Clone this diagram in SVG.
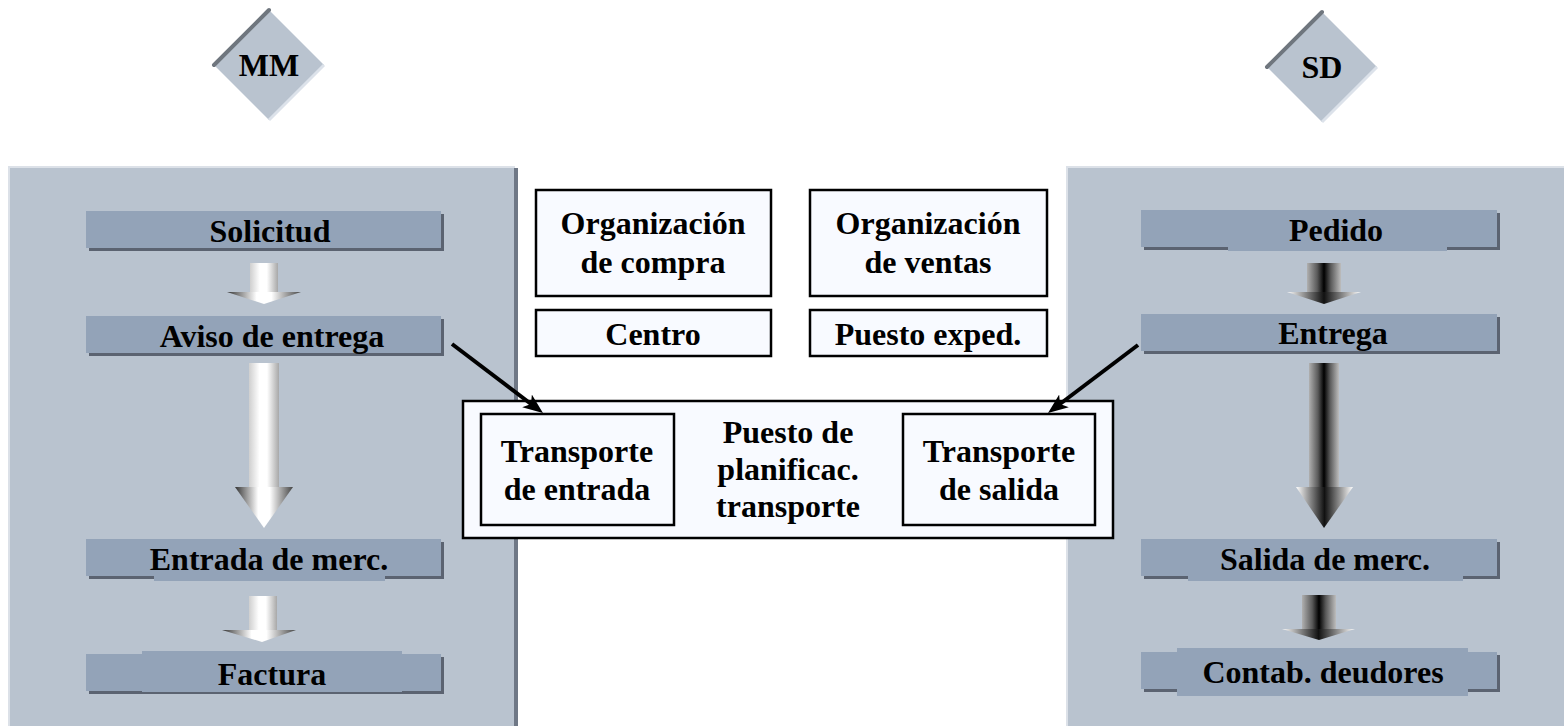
<svg xmlns="http://www.w3.org/2000/svg" width="1564" height="726" viewBox="0 0 1564 726">
<style>
text{font-family:"Liberation Serif","Times New Roman",serif;font-weight:bold;font-size:32px;fill:#000;text-anchor:middle}
.panel{fill:#b9c3cf}
.pdark{fill:#6f7886}
.plight{fill:#dce1e8}
.bar{fill:#93a3b8}
.lbg{fill:#93a3b8}
.shadow{fill:#5b6371}
.box{fill:#f8faff;stroke:#000;stroke-width:2.5}
.dia{fill:#b9c3cf}
.dedge{stroke:#6f767e;stroke-width:4;stroke-linecap:round}
.dlight{stroke:#dce2ea;stroke-width:3}
.conn{stroke:#000;stroke-width:4;fill:none}
</style>
<defs>
<linearGradient id="wShaft" x1="0" y1="0" x2="1" y2="0">
<stop offset="0" stop-color="#cfcfcf"/>
<stop offset="0.35" stop-color="#ffffff"/>
<stop offset="0.6" stop-color="#ffffff"/>
<stop offset="1" stop-color="#a8a8a8"/>
</linearGradient>
<linearGradient id="wHead" x1="0" y1="0" x2="1" y2="0">
<stop offset="0" stop-color="#333333"/>
<stop offset="0.4" stop-color="#ffffff"/>
<stop offset="0.6" stop-color="#ffffff"/>
<stop offset="1" stop-color="#444444"/>
</linearGradient>
<linearGradient id="bShaft" x1="0" y1="0" x2="1" y2="0">
<stop offset="0" stop-color="#b0b0b0"/>
<stop offset="0.3" stop-color="#5a5a5a"/>
<stop offset="0.5" stop-color="#000000"/>
<stop offset="0.7" stop-color="#5a5a5a"/>
<stop offset="1" stop-color="#bdbdbd"/>
</linearGradient>
<linearGradient id="bHead" x1="0" y1="0" x2="1" y2="0">
<stop offset="0" stop-color="#ffffff"/>
<stop offset="0.5" stop-color="#111111"/>
<stop offset="1" stop-color="#ffffff"/>
</linearGradient>
<marker id="ah" markerUnits="userSpaceOnUse" markerWidth="20" markerHeight="16" refX="10" refY="8" orient="auto" viewBox="0 0 20 16">
<path d="M0,0 L20,8 L0,16 L5,8 z" fill="#000"/>
</marker>
</defs>

<!-- module diamonds -->
<g id="mm">
<polygon class="dia" points="269,10 324,65 269,120 214,65"/>
<line class="dlight" x1="324" y1="65" x2="269" y2="120"/>
<line class="dedge" x1="214" y1="65" x2="269" y2="10"/>
<text x="269" y="76">MM</text>
</g>
<g id="sd">
<polygon class="dia" points="1322,12 1377,67 1322,122 1267,67"/>
<line class="dlight" x1="1377" y1="67" x2="1322" y2="122"/>
<line class="dedge" x1="1267" y1="67" x2="1322" y2="12"/>
<text x="1322" y="78">SD</text>
</g>

<!-- panels -->
<g id="panel-mm">
<rect class="plight" x="8" y="166" width="507" height="560"/>
<rect class="panel" x="10" y="168" width="505" height="558"/>
<rect class="pdark" x="514" y="168" width="4" height="558"/>
</g>
<g id="panel-sd">
<rect class="plight" x="1066" y="166" width="498" height="560"/>
<rect class="panel" x="1068" y="168" width="496" height="558"/>
</g>

<!-- MM flow -->
<g id="solicitud">
<rect class="shadow" x="89" y="214" width="355" height="37"/>
<rect class="bar" x="86" y="211" width="355" height="37"/>
<text x="270" y="242">Solicitud</text>
</g>
<g id="aviso">
<rect class="shadow" x="89" y="319" width="355" height="37"/>
<rect class="bar" x="86" y="316" width="355" height="37"/>
<text x="272" y="347">Aviso de entrega</text>
</g>
<g id="entrada-merc">
<rect class="shadow" x="89" y="542" width="355" height="37"/>
<rect class="bar" x="86" y="539" width="355" height="37"/>
<rect class="lbg" x="154" y="540" width="231" height="41"/>
<text x="269" y="570">Entrada de merc.</text>
</g>
<g id="factura">
<rect class="shadow" x="89" y="657" width="355" height="37"/>
<rect class="bar" x="86" y="654" width="355" height="37"/>
<rect class="lbg" x="142" y="651" width="260" height="41"/>
<text x="272" y="685">Factura</text>
</g>

<!-- SD flow -->
<g id="pedido">
<rect class="shadow" x="1144" y="213" width="356" height="37"/>
<rect class="bar" x="1141" y="210" width="356" height="37"/>
<rect class="lbg" x="1228" y="211" width="219" height="40"/>
<text x="1336" y="241">Pedido</text>
</g>
<g id="entrega">
<rect class="shadow" x="1144" y="317" width="356" height="37"/>
<rect class="bar" x="1141" y="314" width="356" height="37"/>
<text x="1333" y="344">Entrega</text>
</g>
<g id="salida-merc">
<rect class="shadow" x="1144" y="542" width="356" height="37"/>
<rect class="bar" x="1141" y="539" width="356" height="37"/>
<rect class="lbg" x="1188" y="540" width="275" height="41"/>
<text x="1325" y="570">Salida de merc.</text>
</g>
<g id="contab">
<rect class="shadow" x="1144" y="655" width="356" height="37"/>
<rect class="bar" x="1141" y="652" width="356" height="37"/>
<rect class="lbg" x="1177" y="648" width="291" height="48"/>
<text x="1323" y="683">Contab. deudores</text>
</g>

<!-- flow arrows -->
<g id="flow-arrows">
<rect x="250" y="263" width="28" height="30" fill="url(#wShaft)"/>
<polygon points="227,292 301,292 264,304" fill="url(#wHead)"/>
<rect x="249" y="363" width="30" height="125" fill="url(#wShaft)"/>
<polygon points="235,487 293,487 264,528" fill="url(#wHead)"/>
<rect x="249" y="596" width="28" height="35" fill="url(#wShaft)"/>
<polygon points="222,630 296,630 262,642" fill="url(#wHead)"/>
<rect x="1307" y="263" width="34" height="30" fill="url(#bShaft)"/>
<polygon points="1287,292 1361,292 1324,304" fill="url(#bHead)"/>
<rect x="1309" y="363" width="30" height="125" fill="url(#bShaft)"/>
<polygon points="1296,487 1353,487 1324,528" fill="url(#bHead)"/>
<rect x="1302" y="595" width="34" height="35" fill="url(#bShaft)"/>
<polygon points="1282,629 1355,629 1319,640" fill="url(#bHead)"/>
</g>

<!-- organizational units -->
<g id="org-compra">
<rect class="box" x="536" y="190" width="235" height="106"/>
<text x="653" y="234">Organización</text>
<text x="653" y="273">de compra</text>
</g>
<g id="org-ventas">
<rect class="box" x="810" y="190" width="237" height="106"/>
<text x="928" y="234">Organización</text>
<text x="928" y="273">de ventas</text>
</g>
<g id="centro">
<rect class="box" x="536" y="310" width="235" height="46"/>
<text x="653" y="345">Centro</text>
</g>
<g id="puesto-exped">
<rect class="box" x="810" y="310" width="237" height="46"/>
<text x="928" y="345">Puesto exped.</text>
</g>
<g id="puesto-transporte">
<rect class="box" x="463" y="401" width="650" height="137"/>
<text x="788" y="443">Puesto de</text>
<text x="788" y="480">planificac.</text>
<text x="788" y="517">transporte</text>
</g>
<g id="transporte-entrada">
<rect class="box" x="481" y="414" width="193" height="111"/>
<text x="577" y="462">Transporte</text>
<text x="577" y="500">de entrada</text>
</g>
<g id="transporte-salida">
<rect class="box" x="903" y="414" width="192" height="111"/>
<text x="999" y="462">Transporte</text>
<text x="999" y="500">de salida</text>
</g>

<g id="connectors">
<path class="conn" d="M452,344 L535,407" marker-end="url(#ah)"/>
<path class="conn" d="M1138,345 L1056,407" marker-end="url(#ah)"/>
</g>
</svg>
